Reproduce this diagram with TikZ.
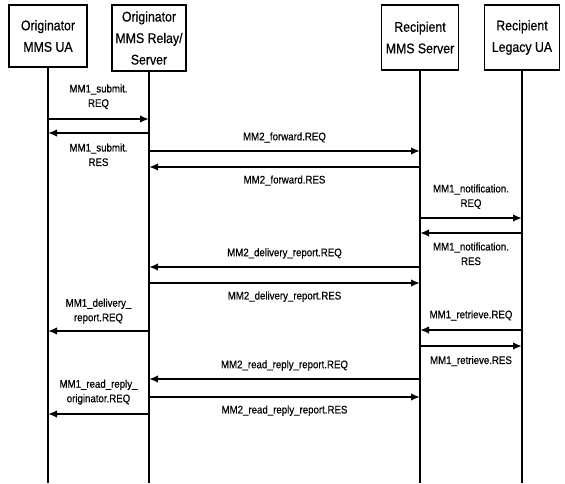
\documentclass[tikz,border=0pt]{standalone}
\usepackage{fontspec}
\setmainfont{Liberation Sans}
\newfontfamily\diagfont[FakeStretch=0.88,FakeBold=0.5]{Liberation Sans}
\usetikzlibrary{arrows.meta,positioning}
\begin{document}
\begin{tikzpicture}[x=1pt, y=-1pt,
  entity/.style={draw, line width=1.3pt, align=center, inner sep=0pt, font=\diagfont\fontsize{14}{21.5}\selectfont},
  lifeline/.style={line width=1.1pt},
  msg/.style={line width=2pt, -{Latex[length=9pt,width=7.5pt]}},
  lbl/.style={align=center, inner sep=0pt, font=\diagfont\fontsize{11}{14.5}\selectfont}]%
  \useasboundingbox (0,0) rectangle (565,483);

  \node[entity, minimum width=78pt, minimum height=62pt] (ua) at (48,36) {Originator\\MMS UA};
  \node[entity, minimum width=74pt, minimum height=66pt] (relay) at (149,38) {Originator\\MMS Relay/\\Server};
  \node[entity, minimum width=77pt, minimum height=65pt] (server) at (420,37.5) {Recipient\\MMS Server};
  \node[entity, minimum width=75pt, minimum height=65pt] (legacy) at (522,37.5) {Recipient\\Legacy UA};

  \coordinate (bottom) at (0,483);
  \draw[lifeline] (ua) -- (ua |- bottom);
  \draw[lifeline] (relay) -- (relay |- bottom);
  \draw[lifeline] (server) -- (server |- bottom);
  \draw[lifeline] (legacy) -- (legacy |- bottom);

  \coordinate (r1) at (0,119);
  \coordinate (r2) at (0,133);
  \coordinate (r3) at (0,151);
  \coordinate (r4) at (0,167);
  \coordinate (r5) at (0,218);
  \coordinate (r6) at (0,233);
  \coordinate (r7) at (0,267);
  \coordinate (r8) at (0,283);
  \coordinate (r9) at (0,331);
  \coordinate (r10) at (0,330);
  \coordinate (r11) at (0,346);
  \coordinate (r12) at (0,379);
  \coordinate (r13) at (0,397);
  \coordinate (r14) at (0,414);

  \draw[msg] (ua |- r1) -- (relay |- r1) node[lbl, midway, above=9pt] {MM1\_submit.\\REQ};
  \draw[msg] (relay |- r2) -- (ua |- r2) node[lbl, midway, below=9.5pt] {MM1\_submit.\\RES};
  \draw[msg] (relay |- r3) -- (server |- r3) node[lbl, midway, above=7.5pt] {MM2\_forward.REQ};
  \draw[msg] (server |- r4) -- (relay |- r4) node[lbl, midway, below=7.5pt] {MM2\_forward.RES};
  \draw[msg] (server |- r5) -- (legacy |- r5) node[lbl, midway, above=8pt] {MM1\_notification.\\REQ};
  \draw[msg] (legacy |- r6) -- (server |- r6) node[lbl, midway, below=8.5pt] {MM1\_notification.\\RES};
  \draw[msg] (server |- r7) -- (relay |- r7) node[lbl, midway, above=7.5pt] {MM2\_delivery\_report.REQ};
  \draw[msg] (relay |- r8) -- (server |- r8) node[lbl, midway, below=7.5pt] {MM2\_delivery\_report.RES};
  \draw[msg] (relay |- r9) -- (ua |- r9) node[lbl, midway, above=6.5pt] {MM1\_delivery\_\\report.REQ};
  \draw[msg] (legacy |- r10) -- (server |- r10) node[lbl, midway, above=8.5pt] {MM1\_retrieve.REQ};
  \draw[msg] (server |- r11) -- (legacy |- r11) node[lbl, midway, below=9pt] {MM1\_retrieve.RES};
  \draw[msg] (server |- r12) -- (relay |- r12) node[lbl, midway, above=7.5pt] {MM2\_read\_reply\_report.REQ};
  \draw[msg] (relay |- r13) -- (server |- r13) node[lbl, midway, below=7.5pt] {MM2\_read\_reply\_report.RES};
  \draw[msg] (relay |- r14) -- (ua |- r14) node[lbl, midway, above=8.5pt] {MM1\_read\_reply\_\\originator.REQ};
\end{tikzpicture}
\end{document}
